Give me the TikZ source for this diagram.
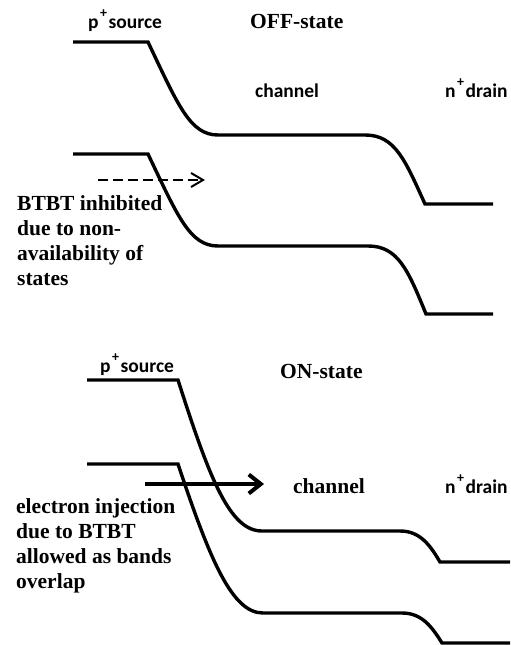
\documentclass[tikz,border=0pt]{standalone}
\usepackage{fontspec}
\setmainfont{Liberation Serif}
\newfontfamily\lblfont{Carlito}
\usetikzlibrary{arrows.meta}
\newcommand{\plus}{\kern1.5pt\raisebox{0.55em}{\fontsize{14}{14}\selectfont+}\kern1.5pt}

\begin{document}
\begin{tikzpicture}[x=1pt,y=-1pt,
	band/.style={line width=3.4pt},
	serif/.style={font=\fontsize{21.5}{25}\selectfont\bfseries, inner sep=0pt, anchor=base west},
	sans/.style={font=\lblfont\fontsize{19.5}{23}\selectfont\bfseries, inner sep=0pt, anchor=base west},
	note/.style={serif, align=left, anchor=north west}]
\useasboundingbox (0,0) rectangle (511,645);
%OFF-Zustand: Baender
\draw [band] (73,42) -- (148,42) .. controls (178,105) and (190,135) .. (218,135)
	-- (365,135) .. controls (395,135) and (405,160) .. (425,204) -- (493,204);
\draw [band] (73,154) -- (148,154) .. controls (178,217) and (190,246) .. (218,246)
	-- (368,246) .. controls (398,246) and (408,270) .. (426,314) -- (493,314);
%OFF-Zustand: Beschriftung
\node [sans, name=srcoff] at (88,28) {p\plus source};
\node [serif, name=offst] at (250,28) {OFF-state};
\node [sans, name=choff] at (255,97) {channel};
\node [sans, name=droff] at (445,97) {n\plus drain};
\node [note, name=txtoff] at (17,195) {BTBT inhibited\\due to non-\\availability of\\states};
%kein Tunneln
\coordinate (offA) at (98,180);
\coordinate (offB) at (205,180);
\draw [line width=2pt, dash pattern=on 10pt off 5pt,
	-{Straight Barb[length=12pt,width=14pt]}] (offA) -- (offB);

%ON-Zustand: Baender
\draw [band] (87,380) -- (178,380) .. controls (210,480) and (230,531) .. (262,531)
	-- (400,531) .. controls (420,531) and (430,545) .. (440,562) -- (510,562);
\draw [band] (87,464) -- (178,464) .. controls (210,560) and (232,613) .. (263,613)
	-- (402,613) .. controls (422,613) and (432,627) .. (442,643) -- (510,643);
%ON-Zustand: Beschriftung
\node [sans, name=srcon] at (100,372) {p\plus source};
\node [serif, name=onst] at (280,378) {ON-state};
\node [serif, name=chon] at (293,493) {channel};
\node [sans, name=dron] at (445,493) {n\plus drain};
\node [note, name=txton] at (16,498) {electron injection\\due to BTBT\\allowed as bands\\overlap};
%Tunneln
\coordinate (onA) at (145,484);
\coordinate (onB) at (264,484);
\draw [line width=4pt, -{Straight Barb[length=12pt,width=19pt]}] (onA) -- (onB);
\end{tikzpicture}
\end{document}
